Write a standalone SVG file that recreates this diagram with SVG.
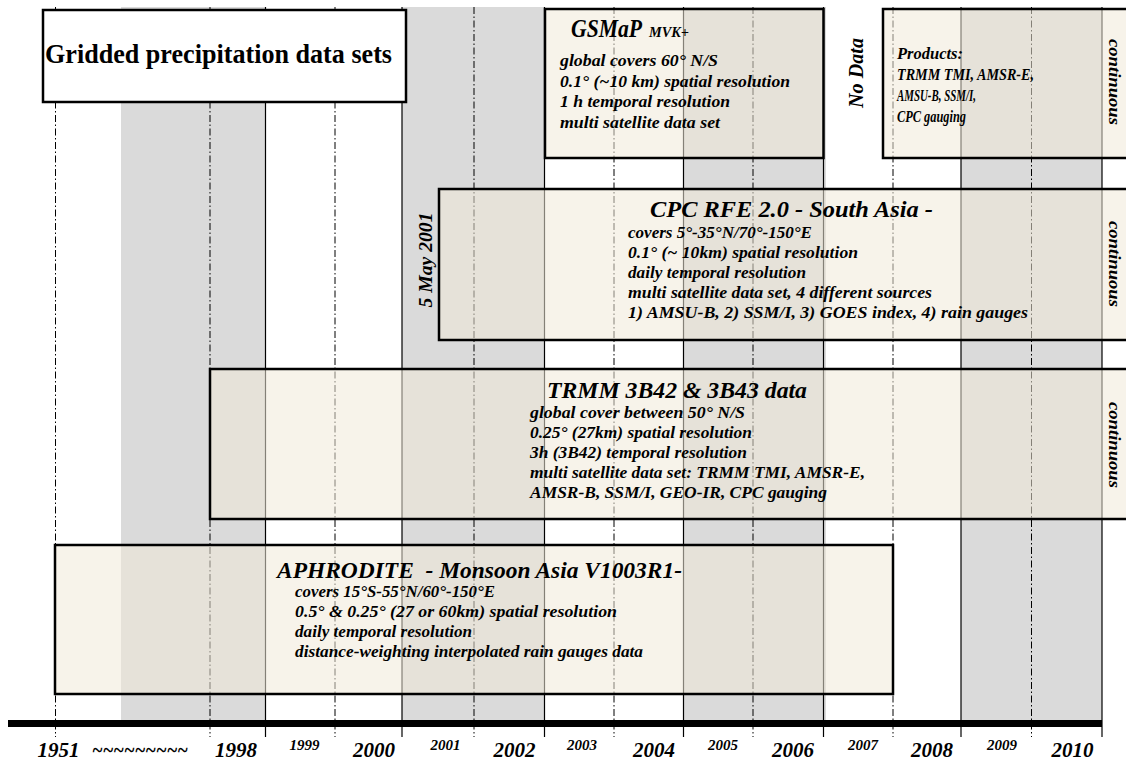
<svg xmlns="http://www.w3.org/2000/svg" width="1126" height="762" viewBox="0 0 1126 762">
<style>
.t{font-family:"Liberation Serif","Times New Roman",serif;font-weight:700;font-style:italic;fill:#000}
.tb{font-family:"Liberation Serif","Times New Roman",serif;font-weight:700;fill:#000}
.ttl{font-size:24px}
.ln{font-size:17px}
.pr{font-size:16px}
.yl{font-size:21px;text-anchor:middle}
.ys{font-size:15px;text-anchor:middle}
.cont{font-size:17px;text-anchor:middle}
.box{fill:rgb(240,233,216);fill-opacity:0.55;stroke:#000;stroke-width:2.5}
.band{fill:#dadada}
.solid{stroke:#000;stroke-width:1.2}
.dash{stroke:#000;stroke-width:1;stroke-dasharray:7 2.5 1.5 2.5}
</style>
<rect width="1126" height="762" fill="#fff"/>
<g id="grid">
<rect class="band" x="121" y="7" width="144.5" height="713"/>
<rect class="band" x="402" y="7" width="142.5" height="713"/>
<rect class="band" x="683.5" y="7" width="142.5" height="713"/>
<rect class="band" x="961" y="7" width="141" height="713"/>
<line class="dash" x1="55.5" y1="7" x2="55.5" y2="737"/>
<line class="dash" x1="210" y1="7" x2="210" y2="737"/>
<line class="solid" x1="265.5" y1="7" x2="265.5" y2="737"/>
<line class="dash" x1="335" y1="7" x2="335" y2="737"/>
<line class="solid" x1="402" y1="7" x2="402" y2="737"/>
<line class="dash" x1="474" y1="7" x2="474" y2="737"/>
<line class="solid" x1="544.5" y1="7" x2="544.5" y2="737"/>
<line class="dash" x1="614" y1="7" x2="614" y2="737"/>
<line class="solid" x1="683.5" y1="7" x2="683.5" y2="737"/>
<line class="dash" x1="753" y1="7" x2="753" y2="737"/>
<line class="solid" x1="823.5" y1="7" x2="823.5" y2="737"/>
<line class="dash" x1="893" y1="7" x2="893" y2="737"/>
<line class="solid" x1="961" y1="7" x2="961" y2="737"/>
<line class="dash" x1="1031.5" y1="7" x2="1031.5" y2="737"/>
<line class="solid" x1="1102" y1="7" x2="1102" y2="737"/>
</g>
<g id="axis">
<rect x="8" y="720" width="1094" height="7" fill="#000"/>
<text class="t yl" x="58.5" y="757">1951</text>
<text class="t yl" x="140" y="757" textLength="96" lengthAdjust="spacingAndGlyphs">~~~~~~~~~</text>
<text class="t yl" x="236" y="757">1998</text>
<text class="t ys" x="304.5" y="750">1999</text>
<text class="t yl" x="374" y="757">2000</text>
<text class="t ys" x="445.5" y="750">2001</text>
<text class="t yl" x="514.5" y="757">2002</text>
<text class="t ys" x="582" y="750">2003</text>
<text class="t yl" x="654" y="757">2004</text>
<text class="t ys" x="723" y="750">2005</text>
<text class="t yl" x="793" y="757">2006</text>
<text class="t ys" x="863" y="750">2007</text>
<text class="t yl" x="932" y="757">2008</text>
<text class="t ys" x="1002" y="750">2009</text>
<text class="t yl" x="1072.5" y="757">2010</text>
</g>
<g id="title">
<rect x="43" y="10" width="363" height="92" fill="#fff" stroke="#000" stroke-width="2.5"/>
<text class="tb" x="45" y="63" font-size="27" textLength="347" lengthAdjust="spacingAndGlyphs">Gridded precipitation data sets</text>
</g>
<g id="gsmap">
<rect class="box" x="545" y="9" width="278.5" height="149"/>
<text class="t" x="571" y="37" font-size="25" textLength="71" lengthAdjust="spacingAndGlyphs">GSMaP</text>
<text class="t" x="649" y="37" font-size="15" textLength="40" lengthAdjust="spacingAndGlyphs">MVK+</text>
<text class="t ln" x="560" y="66" textLength="158" lengthAdjust="spacingAndGlyphs">global covers 60° N/S</text>
<text class="t ln" x="560" y="86.5" textLength="230" lengthAdjust="spacingAndGlyphs">0.1° (~10 km) spatial resolution</text>
<text class="t ln" x="560" y="107" textLength="170" lengthAdjust="spacingAndGlyphs">1 h temporal resolution</text>
<text class="t ln" x="560" y="127.5" textLength="160" lengthAdjust="spacingAndGlyphs">multi satellite data set</text>
</g>
<g id="nodata">
<text class="t" font-size="22" text-anchor="middle" transform="translate(863,73) rotate(-90)" textLength="70" lengthAdjust="spacingAndGlyphs">No Data</text>
</g>
<g id="products">
<rect class="box" x="883" y="9" width="260" height="149"/>
<text class="t pr" x="897" y="59" textLength="66" lengthAdjust="spacingAndGlyphs">Products:</text>
<text class="t pr" x="897" y="80" textLength="137" lengthAdjust="spacingAndGlyphs">TRMM TMI, AMSR-E,</text>
<text class="t pr" x="897" y="101" textLength="79" lengthAdjust="spacingAndGlyphs">AMSU-B, SSM/I,</text>
<text class="t pr" x="897" y="122" textLength="69" lengthAdjust="spacingAndGlyphs">CPC gauging</text>
<text class="t cont" transform="translate(1109,82) rotate(90)" textLength="86" lengthAdjust="spacingAndGlyphs">continuous</text>
</g>
<g id="cpc">
<text class="t" font-size="19" text-anchor="middle" transform="translate(432,260) rotate(-90)" textLength="95" lengthAdjust="spacingAndGlyphs">5 May 2001</text>
<rect class="box" x="439" y="189" width="704" height="151"/>
<text class="t ttl" x="650" y="217" textLength="283" lengthAdjust="spacingAndGlyphs">CPC RFE 2.0 - South Asia -</text>
<text class="t ln" x="628" y="238" textLength="184" lengthAdjust="spacingAndGlyphs">covers 5°-35°N/70°-150°E</text>
<text class="t ln" x="628" y="258" textLength="230" lengthAdjust="spacingAndGlyphs">0.1° (~ 10km) spatial resolution</text>
<text class="t ln" x="628" y="278" textLength="178" lengthAdjust="spacingAndGlyphs">daily temporal resolution</text>
<text class="t ln" x="628" y="298" textLength="304" lengthAdjust="spacingAndGlyphs">multi satellite data set, 4 different sources</text>
<text class="t ln" x="628" y="318" textLength="400" lengthAdjust="spacingAndGlyphs">1) AMSU-B, 2) SSM/I, 3) GOES index, 4) rain gauges</text>
<text class="t cont" transform="translate(1109,264) rotate(90)" textLength="86" lengthAdjust="spacingAndGlyphs">continuous</text>
</g>
<g id="trmm">
<rect class="box" x="210" y="369" width="933" height="150"/>
<text class="t ttl" x="547" y="398" textLength="260" lengthAdjust="spacingAndGlyphs">TRMM 3B42 &amp; 3B43 data</text>
<text class="t ln" x="530" y="418" textLength="215" lengthAdjust="spacingAndGlyphs">global cover between 50° N/S</text>
<text class="t ln" x="530" y="438" textLength="222" lengthAdjust="spacingAndGlyphs">0.25° (27km) spatial resolution</text>
<text class="t ln" x="530" y="458" textLength="217" lengthAdjust="spacingAndGlyphs">3h (3B42) temporal resolution</text>
<text class="t ln" x="530" y="478" textLength="335" lengthAdjust="spacingAndGlyphs">multi satellite data set: TRMM TMI, AMSR-E,</text>
<text class="t ln" x="530" y="498" textLength="297" lengthAdjust="spacingAndGlyphs">AMSR-B, SSM/I, GEO-IR, CPC gauging</text>
<text class="t cont" transform="translate(1109,445) rotate(90)" textLength="86" lengthAdjust="spacingAndGlyphs">continuous</text>
</g>
<g id="aphrodite">
<rect class="box" x="55" y="545" width="838" height="149"/>
<text class="t" font-size="23" x="277" y="578" textLength="405" lengthAdjust="spacingAndGlyphs" xml:space="preserve">APHRODITE  - Monsoon Asia V1003R1-</text>
<text class="t ln" x="295" y="597" textLength="200" lengthAdjust="spacingAndGlyphs">covers 15°S-55°N/60°-150°E</text>
<text class="t ln" x="295" y="617" textLength="322" lengthAdjust="spacingAndGlyphs">0.5° &amp; 0.25° (27 or 60km) spatial resolution</text>
<text class="t ln" x="295" y="637" textLength="177" lengthAdjust="spacingAndGlyphs">daily temporal resolution</text>
<text class="t ln" x="295" y="657" textLength="348" lengthAdjust="spacingAndGlyphs">distance-weighting interpolated rain gauges data</text>
</g>
</svg>
